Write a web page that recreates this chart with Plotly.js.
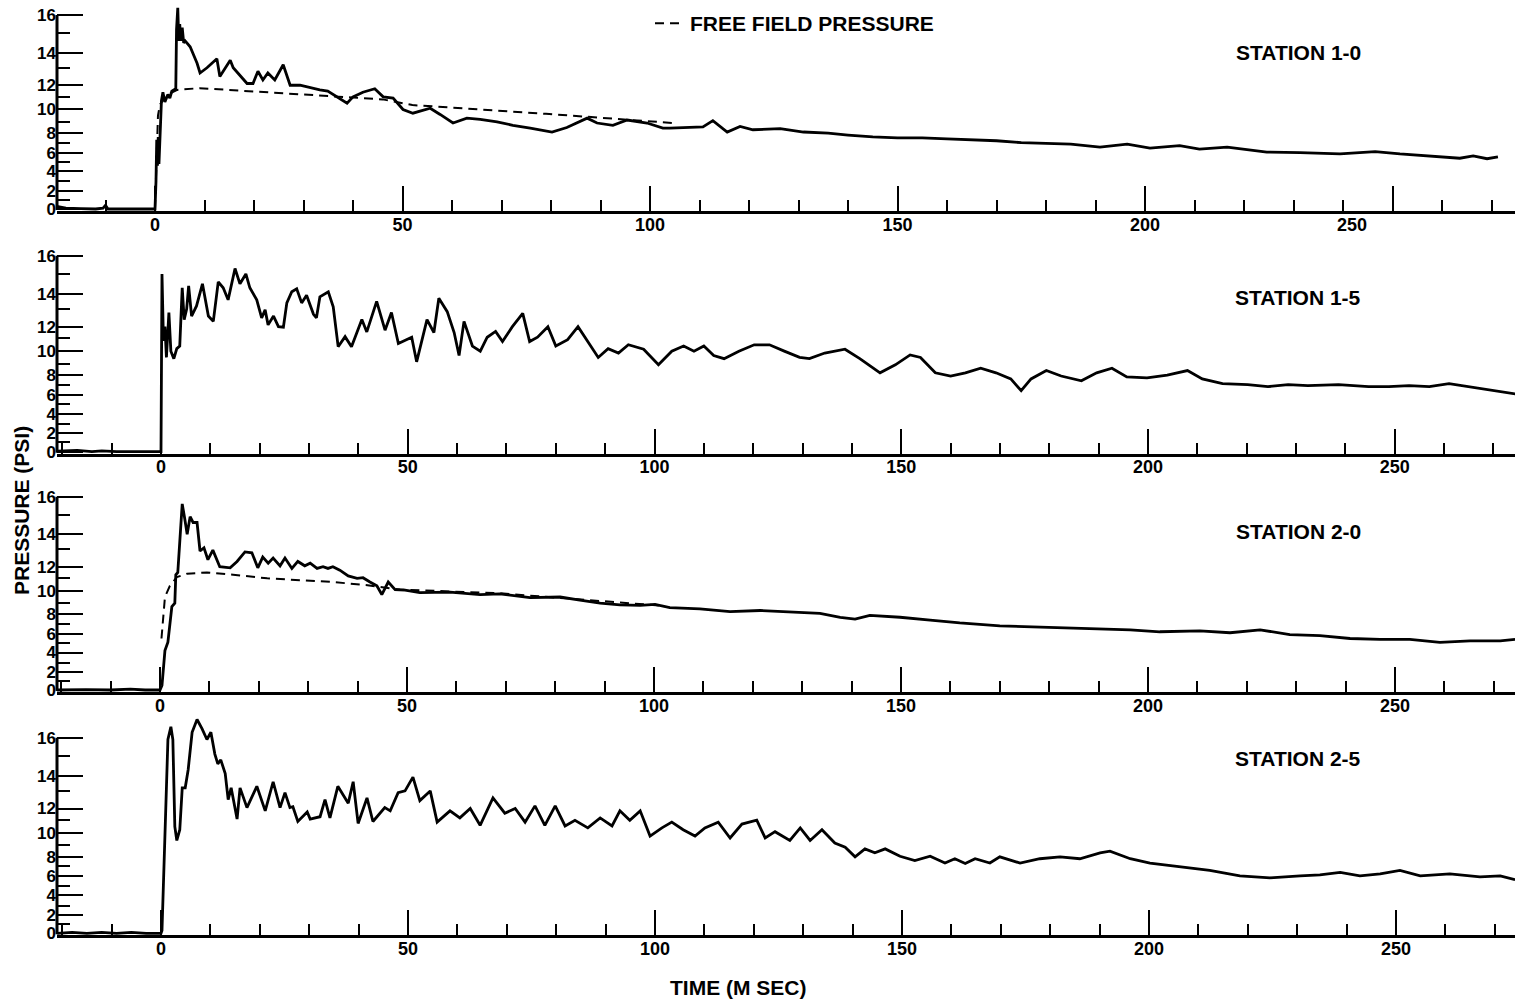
<!DOCTYPE html>
<html>
<head>
<meta charset="utf-8">
<script src="https://cdn.plot.ly/plotly-3.0.1.min.js"></script>
<style>html,body{margin:0;padding:0;background:#fff;}#chart{width:1519px;height:1001px;}</style>
</head>
<body>
<div id="chart"></div>
<script>
// ---- calibration of the (non-linear) pressure scale: psi -> deflection (percent of full scale)
const calPsi  = [0,1,2,3,4,5,6,7,8,9,10,11,12,13,14,15,16];
const calDefl = [0,4.7,9.3,14.2,19.4,24.2,29.1,34.2,39.1,44.9,51.3,57.8,63.8,72.8,80.6,90.7,100];
const yTickPsi = [0,2,4,6,8,10,12,14,16];
const yMinorPsi = [1,3,5,7,9,11,13,15];
const xTickVals = [0,50,100,150,200,250];
const xTickText = ['0','50','100','150','200','250'];
const stationNames = ['STATION 1-0','STATION 1-5','STATION 2-0','STATION 2-5'];

// ---- data: [time (ms), pressure (psi)]
const station10 = [[-20,0.3],[-18,0.1],[-15,0.05],[-12,0],[-10.5,0.1],[-10,0.4],[-9.5,0],[-7,0],[-4,0],[-1,0],[0,0],[0.2,3],[0.35,7.3],[0.5,4.6],[0.65,7.6],[0.8,4.8],[0.95,7.0],[1.1,9.5],[1.3,10.7],[1.6,11.4],[2.0,10.6],[2.6,11.2],[3.0,10.9],[3.4,11.5],[4.2,11.7],[4.35,15.2],[4.6,16.4],[4.8,14.6],[5.0,15.5],[5.2,14.6],[5.5,15.3],[5.8,14.5],[6.1,14.6],[7.1,14.3],[8.5,13.3],[9.1,12.7],[10.5,13.0],[12.5,13.6],[13.1,12.5],[15.2,13.5],[15.8,13.0],[18.6,12.1],[19.8,12.1],[20.8,12.8],[21.8,12.3],[22.8,12.7],[24.2,12.3],[25.9,13.2],[27.3,12.0],[29.3,12.0],[31.9,11.7],[33.3,11.6],[34.9,11.5],[36.8,11.0],[38.8,10.5],[40,11.0],[42,11.4],[44.4,11.7],[45.5,11.3],[46.1,11.0],[48.1,10.9],[50.1,10.0],[52.1,9.7],[55.6,10.1],[57.6,9.6],[60.2,8.9],[63,9.3],[65.7,9.2],[69.1,9.0],[72.3,8.7],[75.8,8.45],[80.2,8.1],[83.2,8.5],[87.3,9.3],[89.3,8.9],[92.5,8.7],[95.4,9.15],[99.4,8.9],[102.6,8.45],[104,8.45],[110.7,8.55],[112.7,9.1],[115.6,8.1],[118.2,8.6],[120.8,8.3],[126.3,8.4],[131,8.1],[136,8.0],[140,7.8],[145,7.6],[150,7.5],[155,7.5],[160,7.4],[165,7.3],[170,7.2],[175,7.0],[180,6.9],[185,6.85],[190.9,6.55],[196.4,6.85],[201,6.45],[207,6.7],[211,6.35],[216.6,6.55],[224.6,6.05],[231.3,6.0],[239.4,5.85],[246.5,6.1],[251.5,5.85],[258.2,5.6],[263.6,5.4],[266.3,5.65],[269.1,5.35],[271.3,5.55]];
const freeField10 = [[0,0],[0.3,6],[0.6,9.5],[1.0,10.4],[2,10.9],[3,11.3],[4.5,11.6],[9,11.75],[29,11.2],[46,10.8],[52,10.35],[79,9.65],[104.6,8.9]];

const station15 = [[-21,0.05],[-17,0.15],[-14,0],[-12,0.1],[-9,0],[-4,0],[0,0],[0.2,15.0],[0.5,10.8],[0.8,12.0],[1.1,9.5],[1.6,12.8],[2.0,10.0],[2.6,9.4],[3.2,10.2],[3.8,10.4],[4.3,14.3],[4.7,12.4],[5.2,13.0],[5.6,14.4],[6.2,12.6],[7.2,13.2],[8.4,14.5],[9.6,12.6],[10.6,12.3],[11.6,14.6],[12.6,14.3],[13.6,13.6],[15.0,15.3],[16.0,14.5],[17.2,15.0],[18.0,14.3],[19.4,13.6],[20.4,12.5],[21.1,12.95],[21.7,12.1],[22.8,12.6],[23.8,12.0],[24.8,11.95],[25.5,13.4],[26.5,14.1],[27.5,14.25],[28.5,13.4],[29.5,13.9],[30.9,12.7],[31.5,12.5],[32.2,13.8],[33.9,14.1],[34.9,13.15],[35.9,10.35],[37.3,11.15],[38.6,10.35],[40.7,12.4],[41.7,11.55],[43.7,13.5],[45.4,11.7],[46.7,12.8],[48.1,10.6],[50.8,11.1],[51.8,9.15],[53.9,12.4],[55.3,11.5],[56.3,13.7],[58,12.85],[59.4,11.5],[60.4,9.65],[61.4,12.3],[63.1,10.4],[64.7,10.0],[66.1,11.1],[67.8,11.6],[69.2,10.75],[71.2,12.0],[73.3,12.75],[74.7,10.75],[76.3,11.1],[78.4,12.0],[80,10.4],[82.4,10.9],[84.5,12.0],[86.5,10.75],[88.6,9.5],[90.6,10.2],[92.7,9.85],[94.7,10.5],[97.8,10.15],[100.8,8.9],[103.5,10.0],[105.9,10.4],[108,10.0],[110,10.4],[112,9.65],[114.1,9.4],[117.1,10.0],[120.2,10.5],[123.3,10.5],[126.3,10.0],[129.4,9.5],[131.4,9.4],[134.5,9.85],[138.6,10.15],[141.6,9.4],[145.7,8.2],[148.8,8.9],[151.8,9.7],[153.9,9.5],[156.9,8.2],[160,7.9],[163,8.2],[166.1,8.6],[169.2,8.2],[172.2,7.6],[174.3,6.4],[176.3,7.6],[179.4,8.4],[182.4,7.9],[186.5,7.4],[189.6,8.2],[192.7,8.6],[195.7,7.8],[199.8,7.7],[203.9,8.0],[208,8.4],[211,7.6],[215.1,7.1],[220.2,7.0],[224.3,6.8],[228.4,7.0],[232.4,6.9],[238.6,7.0],[244.7,6.8],[248.8,6.8],[252.9,6.9],[257,6.8],[261,7.1],[265.1,6.8],[269.2,6.5],[273.3,6.2],[275.3,6.0]];

const station20 = [[-21,0],[-15,0.05],[-10,0],[-6,0.1],[-3,0],[0,0],[0.4,0.5],[1.0,4.2],[1.6,5.1],[2.0,7],[2.4,8.7],[3.0,9.0],[3.2,11.3],[3.6,11.5],[4.5,15.6],[5.0,14.8],[5.5,14.0],[6.1,14.9],[6.7,14.6],[7.5,14.6],[8.1,12.9],[8.9,13.1],[9.7,12.4],[10.7,12.95],[12.1,12.0],[14.2,11.9],[15.6,12.3],[17.2,12.85],[18.6,12.8],[19.8,11.9],[20.8,12.55],[21.9,12.2],[22.9,12.5],[24.3,12.05],[25.3,12.5],[26.7,11.85],[27.9,12.3],[29.3,12.05],[30.4,12.2],[31.8,11.85],[33.0,12.0],[34.0,11.85],[35.0,12.0],[36.4,11.7],[38.1,11.2],[39.9,11.0],[41.1,11.05],[42.5,10.7],[43.9,10.4],[44.9,9.7],[46.2,10.7],[47.6,10.1],[49.6,10.05],[52.6,9.85],[58.7,9.9],[64.8,9.7],[68.8,9.75],[74.9,9.45],[81,9.5],[85,9.25],[89.1,9.0],[93.1,8.85],[97.2,8.8],[100.2,8.9],[103.2,8.6],[109.3,8.5],[115.4,8.25],[121.5,8.35],[127.5,8.2],[133.6,8.1],[137.7,7.7],[140.7,7.5],[143.7,7.9],[149.8,7.7],[155.9,7.4],[161.9,7.1],[170,6.8],[176.1,6.7],[182.2,6.6],[190.3,6.5],[196.4,6.4],[202.4,6.2],[210.5,6.3],[216.6,6.1],[222.7,6.4],[228.7,5.9],[234.8,5.8],[240.9,5.5],[247,5.4],[253,5.4],[259.1,5.1],[265.2,5.25],[271.3,5.25],[274.3,5.4]];
const freeField20 = [[0.3,5.5],[1.0,9.5],[2.0,10.4],[3.4,11.1],[5.5,11.4],[9.5,11.5],[14.8,11.3],[21.7,11.0],[28.3,10.85],[35,10.7],[42,10.45],[48.6,10.1],[68.8,9.8],[89.1,9.2],[101,8.8]];

const station25 = [[-21,0],[-18,0.1],[-15,0],[-12,0.1],[-9,0],[-6,0.1],[-3,0],[0,0],[0.2,0.3],[0.8,9.1],[1.2,14.0],[1.4,15.9],[2.0,16.6],[2.4,15.9],[2.8,10.5],[3.2,9.4],[3.8,10.25],[4.3,13.2],[4.9,13.2],[5.5,14.3],[6.3,16.3],[7.3,17.0],[8.3,16.5],[9.3,15.9],[10.1,16.3],[10.9,15.1],[11.5,14.6],[12.1,14.8],[13.0,14.1],[13.6,12.5],[14.2,13.2],[14.6,12.6],[15.4,11.1],[16.0,13.2],[17.4,12.05],[19.4,13.3],[21.1,11.8],[22.7,13.6],[24.1,12.05],[25.1,12.9],[26.1,12.05],[26.7,12.1],[27.7,10.9],[29.6,11.7],[30.2,11.1],[32.2,11.3],[33.2,12.5],[34.2,11.2],[35.8,13.3],[37.9,12.3],[38.9,13.6],[39.9,10.75],[41.7,12.6],[42.9,10.9],[45.3,12.05],[46.4,11.8],[48.0,12.9],[49.4,13.0],[51,13.9],[52.4,12.45],[54.5,13.0],[55.9,10.85],[58.5,11.8],[60.5,11.2],[62.6,12.0],[64.6,10.6],[67.2,12.6],[69.6,11.6],[71.7,12.0],[73.7,10.85],[75.7,12.15],[77.7,10.6],[79.8,12.15],[81.8,10.55],[83.8,11.0],[86.4,10.4],[88.9,11.2],[91.3,10.55],[92.9,11.8],[94.9,11.0],[97,11.8],[99,9.75],[101.4,10.4],[103.4,10.85],[105.7,10.25],[108.1,9.75],[110.1,10.4],[112.8,10.85],[115.2,9.6],[117.6,10.7],[120.6,11.0],[122.3,9.6],[124.3,10.1],[127.3,9.4],[129.4,10.4],[131.4,9.4],[133.8,10.25],[136.4,9.2],[138.5,8.85],[140.5,8.0],[142.5,8.7],[144.5,8.35],[146.6,8.7],[149.6,8.05],[152.6,7.6],[155.7,8.05],[158.7,7.35],[160.7,7.8],[162.8,7.3],[164.8,7.8],[167.8,7.35],[169.8,8.0],[173.9,7.35],[177.9,7.8],[182,8.0],[186,7.8],[190.1,8.35],[192.1,8.5],[196.2,7.8],[200.2,7.35],[206.3,7.0],[212.3,6.6],[218.4,6.05],[224.5,5.85],[230.6,6.05],[234.6,6.15],[238.7,6.4],[242.7,6.05],[246.8,6.25],[250.8,6.6],[254.9,6.05],[260.9,6.25],[267,5.95],[271.1,6.05],[274.1,5.65]];

// ---- helpers
function defl(p){
  if (p <= 0) return p * (calDefl[1]-calDefl[0]);
  if (p >= 16) return calDefl[16] + (p-16)*(calDefl[16]-calDefl[15]);
  const i = Math.floor(p), f = p - i;
  return calDefl[i] + f*(calDefl[i+1]-calDefl[i]);
}
const FONT = 'Liberation Sans, Arial, sans-serif';
const W = 1519, H = 1001;
// panel geometry (pixels): zero line, px per deflection unit, time zero, px per ms, top of range
const panels = [
  {y0:209,   k:1.94,  x0:155, s:4.95,  rmax:106},
  {y0:451.7, k:1.96,  x0:161, s:4.935, rmax:102},
  {y0:690,   k:1.933, x0:160, s:4.94,  rmax:102},
  {y0:933.3, k:1.956, x0:161, s:4.94,  rmax:112}
];
const stationLabelPx = [53, 297, 531, 758];
const leftPx = 57, rightPx = 1515;

const series = [station10, station15, station20, station25];
const freeFields = [freeField10, null, freeField20, null];

const data = [];
const layout = {
  width: W, height: H, margin:{l:0,r:0,t:0,b:0},
  paper_bgcolor:'#fff', plot_bgcolor:'#fff',
  showlegend:true,
  legend:{x:650/W, y:1-3/H, xanchor:'left', yanchor:'top', bgcolor:'rgba(0,0,0,0)',
          font:{family:FONT, size:21, weight:'bold', color:'#000'}, itemwidth:30},
  annotations:[], shapes:[]
};

panels.forEach((g, i) => {
  const n = i === 0 ? '' : String(i+1);
  const xa = 'x'+n, ya = 'y'+n;
  const s = series[i];
  data.push({x:s.map(d=>d[0]), y:s.map(d=>defl(d[1])), xaxis:xa, yaxis:ya, mode:'lines',
             line:{color:'#000', width:2.8}, showlegend:false, hoverinfo:'skip'});
  if (freeFields[i]) {
    const f = freeFields[i];
    data.push({x:f.map(d=>d[0]), y:f.map(d=>defl(d[1])), xaxis:xa, yaxis:ya, mode:'lines',
               name:'FREE FIELD PRESSURE', line:{color:'#000', width:2, dash:'9px,6px'},
               showlegend:i===0, hoverinfo:'skip'});
  }
  const botPx = g.y0 + 1*g.k, topPx = g.y0 - g.rmax*g.k;
  const ttext = xTickText.slice();
  if (i === 0) ttext[5] = '';
  layout['xaxis'+n] = {
    domain:[leftPx/W, rightPx/W], anchor:ya,
    range:[(leftPx-g.x0)/g.s, (rightPx-g.x0)/g.s],
    tickmode:'array', tickvals:xTickVals, ticktext:ttext,
    ticks:'inside', ticklen:25, tickwidth:2, tickcolor:'#000',
    minor:{tickmode:'linear', tick0:0, dtick:10, ticks:'inside', ticklen:11, tickwidth:2, tickcolor:'#000'},
    showline:true, linewidth:3, linecolor:'#000', showgrid:false, zeroline:false,
    ticklabelstandoff:-5,
    tickfont:{family:FONT, size:18, weight:'bold', color:'#000'}
  };
  layout['yaxis'+n] = {
    domain:[1-botPx/H, 1-topPx/H], anchor:xa,
    range:[-1, g.rmax],
    tickmode:'array', tickvals:yTickPsi.map(defl), ticktext:yTickPsi.map(String),
    ticks:'inside', ticklen:26, tickwidth:2, tickcolor:'#000',
    minor:{tickmode:'array', tickvals:yMinorPsi.map(defl), ticks:'inside', ticklen:13, tickwidth:2, tickcolor:'#000'},
    showline:false, showgrid:false, zeroline:false,
    tickfont:{family:FONT, size:17, weight:'bold', color:'#000'}
  };
  layout.shapes.push({type:'line', xref:xa+' domain', x0:0, x1:0, yref:ya, y0:defl(0)-0.5, y1:defl(16),
                      line:{color:'#000', width:3}});
  layout.annotations.push({text:stationNames[i], xref:'paper', yref:'paper',
    x:1298/W, y:1-stationLabelPx[i]/H, showarrow:false, xanchor:'center', yanchor:'middle',
    font:{family:FONT, size:21, weight:'bold', color:'#000'}});
});

// misplaced "250" label of the top panel
layout.annotations.push({text:'250', xref:'x', yref:'paper', x:(1352-panels[0].x0)/panels[0].s, y:1-225/H,
  showarrow:false, xanchor:'center', yanchor:'middle', font:{family:FONT, size:18, weight:'bold', color:'#000'}});
layout.annotations.push({text:'PRESSURE (PSI)', xref:'paper', yref:'paper', x:21/W, y:1-511/H, textangle:-90,
  showarrow:false, xanchor:'center', yanchor:'middle', font:{family:FONT, size:21, weight:'bold', color:'#000'}});
layout.annotations.push({text:'TIME (M SEC)', xref:'paper', yref:'paper', x:738/W, y:1-987/H,
  showarrow:false, xanchor:'center', yanchor:'middle', font:{family:FONT, size:21, weight:'bold', color:'#000'}});

Plotly.newPlot('chart', data, layout, {staticPlot:true, displayModeBar:false});
</script>
</body>
</html>
